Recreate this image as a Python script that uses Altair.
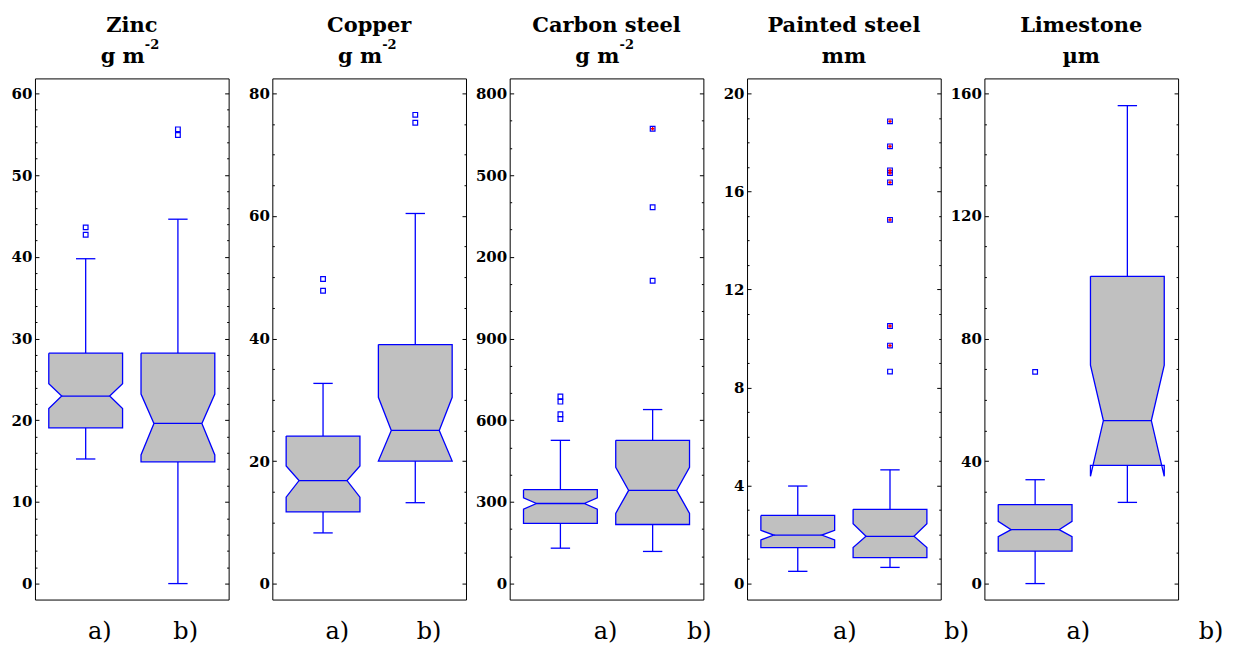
import altair as alt
import pandas as pd

FONT = "DejaVu Serif"
BLUE = "#0000FF"
GREY = "#C0C0C0"

# ---------------- data ----------------
panel_titles = ["Zinc", "Copper", "Carbon steel", "Painted steel", "Limestone"]
panel_units = ["g m", "g m", "g m", "mm", "µm"]
panel_unit_sups = ["-2", "-2", "-2", "", ""]
group_labels = ["a)", "b)"]

# box statistics: [whisker_low, q1, notch_low, median, notch_high, q3, whisker_high]
zinc_a = [15.25, 19.07, 21.44, 22.95, 24.46, 28.2, 39.76]
zinc_b = [0.0, 14.9, 15.75, 19.6, 23.2, 28.2, 44.6]
copper_a = [8.27, 11.7, 14.1, 16.8, 19.2, 24.07, 32.67]
copper_b = [13.2, 20.0, 20.0, 25.0, 30.4, 39.0, 60.4]
carbon_a = [130, 221, 273, 294, 315, 345, 526]
carbon_b = [118, 217, 258, 342, 427, 526, 639]
painted_a = [0.50, 1.47, 1.78, 1.98, 2.17, 2.78, 3.98]
painted_b = [0.66, 1.06, 1.47, 1.93, 2.44, 3.03, 4.64]
limestone_a = [0.0, 10.6, 15.3, 17.6, 20.3, 25.8, 33.9]
limestone_b = [26.5, 38.6, 35.0, 53.2, 71.3, 100.3, 156.0]

# outliers
zinc_out_a = [43.6, 42.7]
zinc_out_b = [55.6, 54.9]
copper_out_a = [49.7, 47.8]
copper_out_b = [76.5, 75.2]
carbon_out_a = [687, 668, 622, 604]
carbon_out_b = [1670, 1382, 1112]
carbon_out_b_flag = [True, False, False]
painted_out_a = []
painted_out_b = [18.86, 17.84, 16.86, 16.75, 16.37, 14.84, 10.51, 9.71, 8.65]
painted_out_b_flag = [True, True, True, True, True, True, True, True, False]
limestone_out_a = [69.1]
limestone_out_b = []

# axis ticks
zinc_ticks = [0, 10, 20, 30, 40, 50, 60]
zinc_tick_labels = ["0", "10", "20", "30", "40", "50", "60"]
copper_ticks = [0, 20, 40, 60, 80]
copper_tick_labels = ["0", "20", "40", "60", "80"]
carbon_ticks = [0, 300, 600, 900, 1200, 1500, 1800]
carbon_tick_labels = ["0", "300", "600", "900", "200", "500", "800"]
painted_ticks = [0, 4, 8, 12, 16, 20]
painted_tick_labels = ["0", "4", "8", "12", "16", "20"]
limestone_ticks = [0, 40, 80, 120, 160]
limestone_tick_labels = ["0", "40", "80", "120", "160"]
minor_steps = [2, 5, 100, 1, 10]

# ---------------- layout constants ----------------
W, H = 194, 522
X_DOMAIN = [0.45, 2.55]
HALF_W = 0.40
NOTCH_IN = 0.14
CAP_HALF = 0.105
PAD_BOT = 16 / 491
PAD_TOP = 15 / 491
label_x_pos = [(65, 151), (65, 157), (96, 190), (98, 210), (94, 227)]


def half_at(y, s):
    lo, q1, nlo, med, nhi, q3, hi = s
    indent = 0.0
    if y == med:
        indent = NOTCH_IN
    elif nlo <= y < med:
        indent = NOTCH_IN * (y - nlo) / (med - nlo)
    elif med < y <= nhi:
        indent = NOTCH_IN * (nhi - y) / (nhi - med)
    return HALF_W - indent


def build_panel(i, stats, outs, flags, ticks, tick_labels, minor_step):
    fill_rows, line_rows, whisk_rows, cap_rows, med_rows, out_rows = [], [], [], [], [], []
    for gi, (s, o, f) in enumerate(zip(stats, outs, flags)):
        c = gi + 1
        g = group_labels[gi]
        lo, q1, nlo, med, nhi, q3, hi = s
        levels = sorted(set([q1, q3] + [v for v in (nlo, med, nhi) if q1 <= v <= q3]))
        for y in levels:
            hw = half_at(y, s)
            fill_rows.append({"g": g, "y": y, "x": c - hw, "x2": c + hw})
        pts = [(c - HALF_W, q3), (c - HALF_W, nhi), (c - HALF_W + NOTCH_IN, med),
               (c - HALF_W, nlo), (c - HALF_W, q1), (c + HALF_W, q1),
               (c + HALF_W, nlo), (c + HALF_W - NOTCH_IN, med), (c + HALF_W, nhi),
               (c + HALF_W, q3), (c - HALF_W, q3)]
        for k, (x, y) in enumerate(pts):
            line_rows.append({"g": g, "x": x, "y": y, "o": k})
        whisk_rows.append({"g": g, "x": c, "y": q3, "y2": hi})
        whisk_rows.append({"g": g, "x": c, "y": lo, "y2": q1})
        cap_rows.append({"g": g, "x": c - CAP_HALF, "x2": c + CAP_HALF, "y": hi})
        cap_rows.append({"g": g, "x": c - CAP_HALF, "x2": c + CAP_HALF, "y": lo})
        med_rows.append({"g": g, "x": c - HALF_W + NOTCH_IN, "x2": c + HALF_W - NOTCH_IN, "y": med})
        for v, fl in zip(o, f):
            out_rows.append({"g": g, "x": c, "y": v, "flag": fl})

    R = ticks[-1]
    ydom = [-R * PAD_BOT, R * (1 + PAD_TOP)]
    yscale = alt.Scale(domain=ydom, nice=False, zero=False)
    xscale = alt.Scale(domain=X_DOMAIN, nice=False, zero=False)

    minors = []
    v = 0
    while v <= R:
        if v not in ticks:
            minors.append(v)
        v = round(v + minor_step, 6)
    all_vals = sorted(ticks + minors)
    maj = "[" + ",".join(repr(t) for t in ticks) + "]"
    labs = "[" + ",".join("'" + l + "'" for l in tick_labels) + "]"
    axis = alt.Axis(
        values=all_vals,
        labelExpr=f"indexof({maj}, datum.value) >= 0 ? {labs}[indexof({maj}, datum.value)] : ''",
        grid=True, gridColor="black", gridWidth=1, gridOpacity=1,
        gridDash={"condition": {"test": f"indexof({maj}, datum.value) >= 0", "value": [4, W - 8]},
                  "value": [2, W - 4]},
        ticks=False, domain=False, labelOverlap=False,
        labelFont=FONT, labelFontWeight="bold", labelFontSize=15, labelColor="black",
        labelPadding=3, title=None,
    )

    def Y(f="y"):
        return alt.Y(f + ":Q", scale=yscale, axis=axis)

    def X(f="x"):
        return alt.X(f + ":Q", scale=xscale, axis=None)

    fill = alt.Chart(pd.DataFrame(fill_rows)).mark_area(
        orient="horizontal", color=GREY, opacity=1
    ).encode(y=Y(), x=X(), x2="x2:Q", detail="g:N")
    outline = alt.Chart(pd.DataFrame(line_rows)).mark_line(
        color=BLUE, strokeWidth=1.3
    ).encode(x=X(), y=Y(), order="o:Q", detail="g:N")
    whisk = alt.Chart(pd.DataFrame(whisk_rows)).mark_rule(color=BLUE, strokeWidth=1.3).encode(
        x=X(), y=Y(), y2="y2:Q")
    caps = alt.Chart(pd.DataFrame(cap_rows)).mark_rule(color=BLUE, strokeWidth=1.3).encode(
        x=X(), x2="x2:Q", y=Y())
    meds = alt.Chart(pd.DataFrame(med_rows)).mark_rule(color=BLUE, strokeWidth=1.3).encode(
        x=X(), x2="x2:Q", y=Y())
    layers = [whisk, fill, outline, meds, caps]
    if out_rows:
        odf = pd.DataFrame(out_rows)
        layers.append(alt.Chart(odf).mark_point(
            shape="square", filled=False, color=BLUE, size=22, strokeWidth=1.2, opacity=1
        ).encode(x=X(), y=Y()))
        fdf = odf[odf["flag"]]
        if len(fdf):
            layers.append(alt.Chart(fdf).mark_point(
                shape="cross", filled=True, color="#FF0000", size=12, opacity=1
            ).encode(x=X(), y=Y()))

    cx = W / 2
    title_df = pd.DataFrame({"t": [panel_titles[i]]})
    layers.append(alt.Chart(title_df).mark_text(
        font=FONT, fontSize=21, fontWeight="bold", color="black", align="center", baseline="alphabetic"
    ).encode(text="t:N", x=alt.value(cx), y=alt.value(-46)))
    unit_df = pd.DataFrame({"t": [panel_units[i]]})
    sup = panel_unit_sups[i]
    if sup:
        layers.append(alt.Chart(unit_df).mark_text(
            font=FONT, fontSize=21, fontWeight="bold", color="black", align="right", baseline="alphabetic"
        ).encode(text="t:N", x=alt.value(cx + 13), y=alt.value(-15)))
        layers.append(alt.Chart(pd.DataFrame({"t": [sup]})).mark_text(
            font=FONT, fontSize=13, fontWeight="bold", color="black", align="left", baseline="alphabetic"
        ).encode(text="t:N", x=alt.value(cx + 13), y=alt.value(-29)))
    else:
        layers.append(alt.Chart(unit_df).mark_text(
            font=FONT, fontSize=21, fontWeight="bold", color="black", align="center", baseline="alphabetic"
        ).encode(text="t:N", x=alt.value(cx), y=alt.value(-15)))
    for gi, gl in enumerate(group_labels):
        layers.append(alt.Chart(pd.DataFrame({"t": [gl]})).mark_text(
            font=FONT, fontSize=24, color="black", align="center", baseline="alphabetic"
        ).encode(text="t:N", x=alt.value(label_x_pos[i][gi]), y=alt.value(H + 40)))

    return alt.layer(*layers).properties(width=W, height=H)


panels = [
    build_panel(0, [zinc_a, zinc_b], [zinc_out_a, zinc_out_b],
                [[False] * len(zinc_out_a), [False] * len(zinc_out_b)],
                zinc_ticks, zinc_tick_labels, minor_steps[0]),
    build_panel(1, [copper_a, copper_b], [copper_out_a, copper_out_b],
                [[False] * len(copper_out_a), [False] * len(copper_out_b)],
                copper_ticks, copper_tick_labels, minor_steps[1]),
    build_panel(2, [carbon_a, carbon_b], [carbon_out_a, carbon_out_b],
                [[False] * len(carbon_out_a), carbon_out_b_flag],
                carbon_ticks, carbon_tick_labels, minor_steps[2]),
    build_panel(3, [painted_a, painted_b], [painted_out_a, painted_out_b],
                [[], painted_out_b_flag],
                painted_ticks, painted_tick_labels, minor_steps[3]),
    build_panel(4, [limestone_a, limestone_b], [limestone_out_a, limestone_out_b],
                [[False] * len(limestone_out_a), []],
                limestone_ticks, limestone_tick_labels, minor_steps[4]),
]

chart = alt.HConcatChart(hconcat=panels, spacing=43.75, bounds="flush").properties(
    padding={"left": 2, "top": 6, "right": 5, "bottom": 0},
    background="white",
).configure_view(stroke="black", strokeWidth=1, fill="white")

chart.save("out.html", embed_options={"renderer": "svg", "actions": False})
